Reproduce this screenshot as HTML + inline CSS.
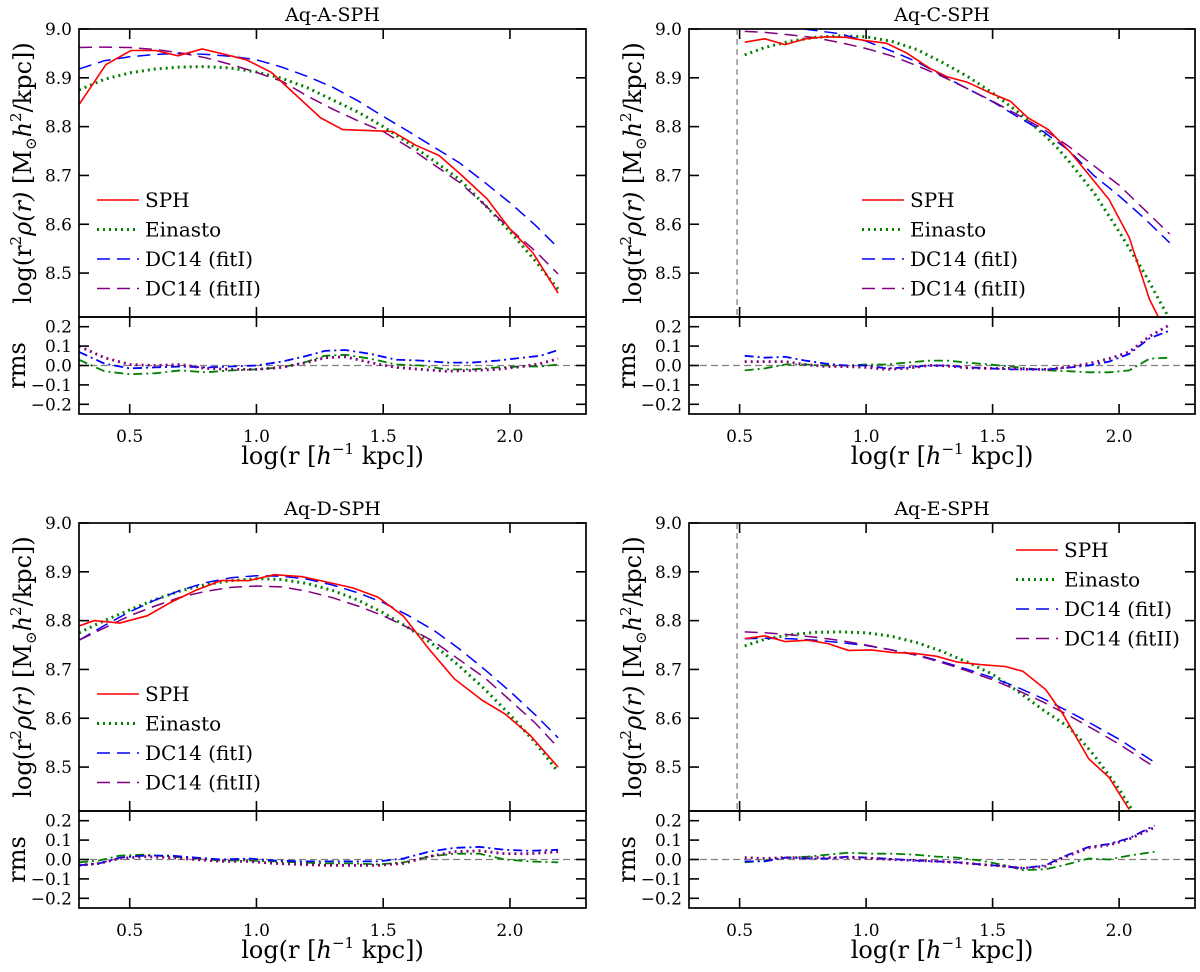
<!DOCTYPE html>
<html><head><meta charset="utf-8"><style>
html,body{margin:0;padding:0;background:#fff}
svg{display:block;font-family:"DejaVu Serif","Liberation Serif",serif}
</style></head><body>
<svg id="fig" width="1200" height="972" viewBox="0 0 1200 972" xmlns="http://www.w3.org/2000/svg"></svg>
<script>
// ---------- data ----------
const panelTitles = ["Aq-A-SPH","Aq-C-SPH","Aq-D-SPH","Aq-E-SPH"];
const xTicks = [0.5,1.0,1.5,2.0];
const yTicksMain = [8.5,8.6,8.7,8.8,8.9,9.0];
const yTicksRes = [-0.2,-0.1,0.0,0.1,0.2];
const legendLabels = ["SPH","Einasto","DC14 (fitI)","DC14 (fitII)"];
const cutLine = [null,0.49,null,0.49];

// Aq-A
const A_sph_x=[0.30,0.406,0.505,0.603,0.69,0.786,0.884,0.96,1.059,1.253,1.34,1.537,1.628,1.72,1.81,1.91,2.0,2.09,2.19];
const A_sph_y=[8.845,8.927,8.956,8.956,8.945,8.959,8.947,8.937,8.911,8.818,8.794,8.790,8.762,8.741,8.700,8.652,8.590,8.542,8.459];
const A_fit_x=[0.3,0.4,0.5,0.6,0.7,0.8,0.9,1.0,1.1,1.2,1.3,1.4,1.5,1.6,1.7,1.8,1.9,2.0,2.1,2.19];
const A_ein=[8.875,8.897,8.910,8.918,8.922,8.923,8.920,8.912,8.899,8.880,8.855,8.830,8.800,8.766,8.730,8.692,8.640,8.585,8.525,8.467];
const A_dc1=[8.918,8.935,8.943,8.948,8.950,8.948,8.944,8.937,8.922,8.903,8.881,8.853,8.821,8.790,8.758,8.726,8.686,8.644,8.598,8.552];
const A_dc2=[8.962,8.963,8.962,8.958,8.951,8.941,8.927,8.911,8.893,8.863,8.836,8.812,8.790,8.758,8.722,8.686,8.640,8.590,8.545,8.498];
const A_res_x=[0.3,0.4,0.5,0.6,0.7,0.8,0.9,1.0,1.1,1.2,1.27,1.35,1.45,1.55,1.65,1.75,1.85,1.95,2.05,2.12,2.19];
const A_res_dc1=[0.07,0.01,-0.015,-0.01,-0.005,-0.01,-0.005,0.0,0.02,0.05,0.075,0.08,0.06,0.03,0.025,0.015,0.015,0.025,0.04,0.05,0.08];
const A_res_ein=[0.03,-0.03,-0.045,-0.04,-0.025,-0.035,-0.025,-0.02,-0.01,0.02,0.05,0.055,0.035,0.005,0.0,-0.02,-0.02,-0.01,-0.005,-0.005,0.005];
const A_res_dc2=[0.1,0.04,0.005,0.0,0.005,-0.015,-0.02,-0.02,-0.01,0.015,0.04,0.045,0.015,-0.01,-0.02,-0.03,-0.025,-0.02,-0.005,0.01,0.035];

// Aq-C
const C_sph_x=[0.52,0.60,0.68,0.76,0.84,0.92,1.0,1.08,1.16,1.25,1.32,1.40,1.49,1.57,1.64,1.72,1.81,1.88,1.96,2.04,2.12,2.16];
const C_sph_y=[8.973,8.980,8.968,8.980,8.984,8.983,8.976,8.971,8.951,8.920,8.902,8.891,8.869,8.852,8.818,8.794,8.746,8.702,8.651,8.573,8.446,8.405];
const C_fit_x=[0.52,0.6,0.7,0.8,0.9,1.0,1.1,1.2,1.3,1.4,1.5,1.6,1.7,1.75,1.8,1.9,2.0,2.1,2.2];
const C_ein=[8.947,8.962,8.975,8.983,8.986,8.984,8.975,8.958,8.932,8.903,8.869,8.830,8.785,8.760,8.730,8.665,8.585,8.500,8.405];
const C_dc1=[9.010,9.008,9.003,8.997,8.990,8.975,8.955,8.933,8.905,8.878,8.851,8.820,8.790,8.771,8.752,8.700,8.658,8.612,8.562];
const C_dc2=[8.995,8.993,8.988,8.982,8.972,8.960,8.945,8.925,8.903,8.878,8.852,8.824,8.795,8.778,8.760,8.720,8.680,8.630,8.580];
const C_res_x=[0.52,0.6,0.68,0.76,0.84,0.92,1.0,1.08,1.16,1.25,1.32,1.4,1.49,1.57,1.64,1.72,1.81,1.88,1.96,2.04,2.12,2.2];
const C_res_dc1=[0.05,0.04,0.045,0.025,0.01,0.0,0.0,-0.015,-0.01,0.0,0.0,-0.01,-0.015,-0.02,-0.02,-0.02,-0.01,0.0,0.02,0.06,0.14,0.18];
const C_res_ein=[-0.025,-0.015,0.005,0.005,0.0,0.0,0.005,0.005,0.015,0.025,0.025,0.015,0.005,-0.005,-0.015,-0.025,-0.03,-0.035,-0.035,-0.025,0.035,0.04];
const C_res_dc2=[0.02,0.02,0.02,0.005,-0.005,-0.005,-0.01,-0.02,-0.015,0.0,-0.002,-0.012,-0.015,-0.015,-0.02,-0.02,-0.005,0.01,0.035,0.07,0.15,0.21];

// Aq-D
const D_sph_x=[0.3,0.36,0.46,0.57,0.66,0.76,0.86,0.97,1.07,1.18,1.27,1.38,1.48,1.58,1.68,1.78,1.89,1.98,2.08,2.19];
const D_sph_y=[8.789,8.800,8.795,8.810,8.837,8.862,8.882,8.882,8.894,8.890,8.880,8.867,8.848,8.809,8.742,8.681,8.637,8.609,8.565,8.500];
const D_fit_x=[0.3,0.4,0.5,0.6,0.7,0.8,0.9,1.0,1.1,1.2,1.3,1.4,1.5,1.6,1.7,1.8,1.9,2.0,2.1,2.19];
const D_ein=[8.775,8.800,8.822,8.843,8.861,8.874,8.882,8.886,8.884,8.876,8.862,8.842,8.816,8.785,8.750,8.707,8.660,8.607,8.550,8.490];
const D_dc1=[8.760,8.790,8.818,8.842,8.862,8.878,8.888,8.892,8.891,8.885,8.873,8.857,8.837,8.810,8.780,8.742,8.700,8.655,8.607,8.560];
const D_dc2=[8.760,8.785,8.810,8.830,8.848,8.860,8.868,8.871,8.869,8.860,8.847,8.830,8.810,8.785,8.757,8.720,8.683,8.637,8.590,8.540];
const D_res_x=[0.3,0.38,0.46,0.56,0.66,0.76,0.86,0.97,1.07,1.18,1.27,1.38,1.48,1.58,1.68,1.78,1.88,1.98,2.08,2.19];
const D_res_dc1=[-0.03,-0.02,0.01,0.02,0.02,0.01,0.0,0.005,-0.005,-0.01,-0.01,-0.01,-0.01,0.005,0.04,0.06,0.065,0.05,0.045,0.05];
const D_res_ein=[-0.015,-0.005,0.02,0.025,0.015,0.005,-0.005,-0.005,-0.01,-0.015,-0.02,-0.02,-0.025,-0.015,0.015,0.03,0.03,0.0,-0.01,-0.015];
const D_res_dc2=[-0.03,-0.02,0.005,0.015,0.01,0.0,-0.01,-0.01,-0.02,-0.025,-0.03,-0.03,-0.03,-0.02,0.015,0.04,0.045,0.03,0.03,0.04];

// Aq-E
const E_sph_x=[0.52,0.6,0.68,0.77,0.85,0.93,1.02,1.1,1.19,1.28,1.36,1.45,1.55,1.62,1.71,1.78,1.88,1.96,2.04];
const E_sph_y=[8.763,8.769,8.757,8.760,8.753,8.739,8.740,8.735,8.733,8.727,8.715,8.710,8.706,8.696,8.659,8.607,8.517,8.479,8.413];
const E_ein_x=[0.52,0.6,0.7,0.8,0.9,1.0,1.1,1.2,1.3,1.4,1.5,1.6,1.7,1.8,1.85,1.9,1.96,2.0,2.06];
const E_ein=[8.748,8.762,8.771,8.776,8.777,8.775,8.768,8.755,8.737,8.715,8.690,8.655,8.617,8.582,8.555,8.525,8.483,8.455,8.405];
const E_dc_x=[0.52,0.6,0.7,0.8,0.9,1.0,1.1,1.2,1.3,1.4,1.5,1.6,1.7,1.8,1.9,2.0,2.08,2.14];
const E_dc1=[8.763,8.764,8.763,8.760,8.755,8.749,8.740,8.730,8.716,8.700,8.683,8.663,8.640,8.614,8.586,8.557,8.530,8.510];
const E_dc2=[8.777,8.775,8.771,8.766,8.759,8.750,8.740,8.729,8.714,8.697,8.679,8.657,8.633,8.606,8.577,8.547,8.520,8.500];
const E_res_x=[0.52,0.6,0.68,0.77,0.85,0.93,1.02,1.1,1.19,1.28,1.36,1.45,1.55,1.62,1.71,1.78,1.88,1.96,2.04,2.14];
const E_res_dc1=[-0.01,-0.01,0.01,0.005,0.005,0.015,0.008,0.003,-0.005,-0.01,-0.015,-0.025,-0.035,-0.045,-0.03,0.015,0.065,0.08,0.11,0.175];
const E_res_ein=[-0.015,-0.005,0.01,0.015,0.025,0.035,0.03,0.03,0.025,0.015,0.01,-0.005,-0.03,-0.055,-0.05,-0.03,0.005,0.0,0.02,0.04];
const E_res_dc2=[0.01,0.005,0.01,0.01,0.01,0.01,0.005,0.0,-0.005,-0.01,-0.015,-0.025,-0.035,-0.045,-0.035,0.01,0.06,0.075,0.105,0.165];

// ---------- layout ----------
const NS="http://www.w3.org/2000/svg";
const svg=document.getElementById('fig');
const XMIN=0.3,XMAX=2.3,YMIN=8.41,YMAX=9.0,RMIN=-0.25,RMAX=0.25;
const cols=[{l:79,r:586},{l:689,r:1195}];
const rows=[{t:29,mb:317,rb:414,title:21,tick:436,xl:464},{t:523,mb:811,rb:908,title:515,tick:930,xl:958}];
const legendPos=[{x:97,y:200},{x:862,y:200},{x:97,y:694},{x:1016,y:550}];
const C_RED="#ff0000",C_GRN="#008000",C_BLU="#0000ff",C_PUR="#800080";

function el(tag,attrs,parent){const e=document.createElementNS(NS,tag);for(const k in attrs)e.setAttribute(k,attrs[k]);(parent||svg).appendChild(e);return e;}
function pathD(xs,ys,sx,sy){return xs.map((x,i)=>(i?'L':'M')+sx(x).toFixed(1)+' '+sy(ys[i]).toFixed(1)).join(' ');}

const panels=[
 {sph:[A_sph_x,A_sph_y],ein:[A_fit_x,A_ein],dc1:[A_fit_x,A_dc1],dc2:[A_fit_x,A_dc2],res:[A_res_x,A_res_dc1,A_res_ein,A_res_dc2]},
 {sph:[C_sph_x,C_sph_y],ein:[C_fit_x,C_ein],dc1:[C_fit_x,C_dc1],dc2:[C_fit_x,C_dc2],res:[C_res_x,C_res_dc1,C_res_ein,C_res_dc2]},
 {sph:[D_sph_x,D_sph_y],ein:[D_fit_x,D_ein],dc1:[D_fit_x,D_dc1],dc2:[D_fit_x,D_dc2],res:[D_res_x,D_res_dc1,D_res_ein,D_res_dc2]},
 {sph:[E_sph_x,E_sph_y],ein:[E_ein_x,E_ein],dc1:[E_dc_x,E_dc1],dc2:[E_dc_x,E_dc2],res:[E_res_x,E_res_dc1,E_res_ein,E_res_dc2]}
];

panels.forEach((p,i)=>{
  const c=cols[i%2],r=rows[Math.floor(i/2)];
  const sx=v=>c.l+(v-XMIN)/(XMAX-XMIN)*(c.r-c.l);
  const sy=v=>r.t+(YMAX-v)/(YMAX-YMIN)*(r.mb-r.t);
  const sr=v=>r.mb+(RMAX-v)/(RMAX-RMIN)*(r.rb-r.mb);
  const g=el('g',{});
  
  
  const cid='clipm'+i, cid2='clipr'+i;
  const defs=el('defs',{},g);
  const cp=el('clipPath',{id:cid},defs);el('rect',{x:c.l,y:r.t,width:c.r-c.l,height:r.mb-r.t},cp);
  const cp2=el('clipPath',{id:cid2},defs);el('rect',{x:c.l,y:r.mb,width:c.r-c.l,height:r.rb-r.mb},cp2);
  const t=el('text',{x:(c.l+c.r)/2,y:r.title,'text-anchor':'middle','font-size':19},g);t.textContent=panelTitles[i];
  
  
  const mg=el('g',{'clip-path':'url(#'+cid+')'},g);
  if(cutLine[i]!==null){const vl=el('line',{x1:sx(cutLine[i]),x2:sx(cutLine[i]),y1:r.t,y2:r.mb,stroke:'#808080','stroke-width':1.3,'stroke-dasharray':'6,4'},mg);
    
    }
  const s1=el('path',{d:pathD(p.ein[0],p.ein[1],sx,sy),fill:'none',stroke:C_GRN,'stroke-width':3,'stroke-dasharray':'2,4'},mg);
  
  
  const s2=el('path',{d:pathD(p.dc1[0],p.dc1[1],sx,sy),fill:'none',stroke:C_BLU,'stroke-width':1.5,'stroke-dasharray':'13,7'},mg);
  
  
  const s3=el('path',{d:pathD(p.dc2[0],p.dc2[1],sx,sy),fill:'none',stroke:C_PUR,'stroke-width':1.5,'stroke-dasharray':'13,7'},mg);
  
  
  const s0=el('path',{d:pathD(p.sph[0],p.sph[1],sx,sy),fill:'none',stroke:C_RED,'stroke-width':1.6},mg);
  
  
  const rg=el('g',{'clip-path':'url(#'+cid2+')'},g);
  const zl=el('line',{x1:c.l,x2:c.r,y1:sr(0),y2:sr(0),stroke:'#808080','stroke-width':1.3,'stroke-dasharray':'7,4'},rg);
  
  
  const rx=p.res[0];
  const r2=el('path',{d:pathD(rx,p.res[2],sx,sr),fill:'none',stroke:C_GRN,'stroke-width':1.8,'stroke-dasharray':'9,4,2,4'},rg);
  
  
  const r1=el('path',{d:pathD(rx,p.res[1],sx,sr),fill:'none',stroke:C_BLU,'stroke-width':1.8,'stroke-dasharray':'9,4,2,4'},rg);
  
  
  const r3=el('path',{d:pathD(rx,p.res[3],sx,sr),fill:'none',stroke:C_PUR,'stroke-width':2.8,'stroke-dasharray':'2,4'},rg);
  
  
  const f1=el('rect',{x:c.l,y:r.t,width:c.r-c.l,height:r.mb-r.t,fill:'none',stroke:'#000','stroke-width':1.7},g);
  
  
  const f2=el('rect',{x:c.l,y:r.mb,width:c.r-c.l,height:r.rb-r.mb,fill:'none',stroke:'#000','stroke-width':1.7},g);
  
  
  xTicks.forEach(v=>{const x=sx(v);
    [[r.t,r.t+10],[r.mb,r.mb-10],[r.mb,r.mb+10],[r.rb,r.rb-10]].forEach(a=>el('line',{x1:x,x2:x,y1:a[0],y2:a[1],stroke:'#000','stroke-width':1.6},g));
    const tl=el('text',{x:x,y:r.tick+6,'text-anchor':'middle','font-size':17},g);tl.textContent=v.toFixed(1);
    
    
  });
  yTicksMain.forEach(v=>{const y=sy(v);
    el('line',{x1:c.l,x2:c.l+10,y1:y,y2:y,stroke:'#000','stroke-width':1.6},g);
    el('line',{x1:c.r,x2:c.r-10,y1:y,y2:y,stroke:'#000','stroke-width':1.6},g);
    const tl=el('text',{x:c.l-7,y:y+6,'text-anchor':'end','font-size':17},g);tl.textContent=v.toFixed(1);
    
    
  });
  yTicksRes.forEach(v=>{const y=sr(v);
    el('line',{x1:c.l,x2:c.l+10,y1:y,y2:y,stroke:'#000','stroke-width':1.6},g);
    el('line',{x1:c.r,x2:c.r-10,y1:y,y2:y,stroke:'#000','stroke-width':1.6},g);
    const tl=el('text',{x:c.l-7,y:y+6,'text-anchor':'end','font-size':17},g);tl.textContent=(v<0?'\u2212':'')+Math.abs(v).toFixed(1);
    
    
  });
  const xl=el('text',{x:(c.l+c.r)/2,y:r.xl,'text-anchor':'middle','font-size':24},g);
  xl.innerHTML='log(r [<tspan font-style="italic">h</tspan><tspan font-size="15" dy="-10">\u22121</tspan><tspan dy="10"> kpc])</tspan>';
  
  
  const ycx=c.l-56, ycy=(r.t+r.mb)/2;
  const yl=el('text',{x:ycx,y:ycy,'text-anchor':'middle','font-size':24,transform:'rotate(-90 '+ycx+' '+ycy+') translate(0 8)'},g);
  yl.innerHTML='log(r<tspan font-size="15" dy="-10">2</tspan><tspan dy="10" font-style="italic">\u03c1(r)</tspan> [M<tspan font-size="15" dy="5">\u2299</tspan><tspan dy="-5" font-style="italic">h</tspan><tspan font-size="15" dy="-10">2</tspan><tspan dy="10">/kpc])</tspan>';
  
  
  const rcx=c.l-62, rcy=(r.mb+r.rb)/2;
  const rl=el('text',{x:rcx,y:rcy,'text-anchor':'middle','font-size':24,transform:'rotate(-90 '+rcx+' '+rcy+') translate(0 8)'},g);
  rl.textContent='rms';
  
  
  const L=legendPos[i];
  const lg=el('g',{},g);
  
  
  const styles=[{s:C_RED,w:1.6,d:''},{s:C_GRN,w:3,d:'2,4'},{s:C_BLU,w:1.5,d:'13,7'},{s:C_PUR,w:1.5,d:'13,7'}];
  legendLabels.forEach((lab,k)=>{const y=L.y+k*29.5;
    const ln=el('line',{x1:L.x,x2:L.x+42,y1:y,y2:y,stroke:styles[k].s,'stroke-width':styles[k].w},lg);
    if(styles[k].d)ln.setAttribute('stroke-dasharray',styles[k].d);
    const tx=el('text',{x:L.x+48,y:y+7,'font-size':20},lg);tx.textContent=lab;
    
    
  });
});
</script>
</body></html>
